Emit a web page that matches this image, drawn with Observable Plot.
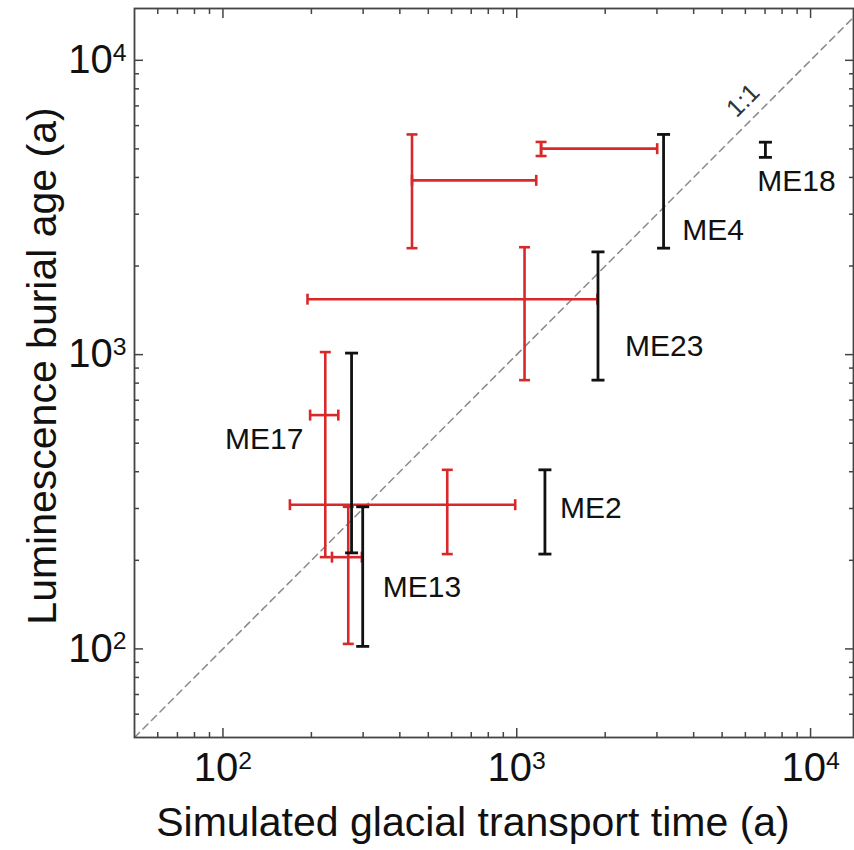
<!DOCTYPE html>
<html>
<head>
<meta charset="utf-8">
<script src="https://cdn.jsdelivr.net/npm/d3@7"></script>
<script src="https://cdn.jsdelivr.net/npm/@observablehq/plot@0.6"></script>
<style>
  html, body { margin: 0; padding: 0; background: #fff; }
  #chart svg { display: block; }
</style>
</head>
<body>
<div id="chart"></div>
<script>
// ---- data ----
const samples   = ["ME4", "ME18", "ME23", "ME17", "ME2", "ME13"];
// red: simulated transport time (x, with range) and luminescence age (y, with range)
const redX      = [440, 1210, 1063, 223, 580, 267];
const redXLo    = [440, 1210, 194, 198, 169, 235];
const redXHi    = [1165, 3006, 1881, 247, 988, 297];
const redY      = [3910, 5010, 1543, 623, 309, 205];
const redYLo    = [2300, 4730, 819, 205, 210, 104];
const redYHi    = [5600, 5280, 2317, 1020, 406, 304];
// black: luminescence age ranges
const blackX    = [3160, 7020, 1890, 274, 1247, 299];
const blackYLo  = [2300, 4680, 819, 212, 210, 102];
const blackYHi  = [5600, 5270, 2234, 1012, 406, 304];
// sample label anchor points (data units)
const labelX    = [3655, 6583, 2337, 188, 1404, 350];
const labelY    = [2648, 3882, 1069, 516, 301, 162];
const labelSide = ["start", "start", "start", "end", "start", "start"];
// axes
const majorTicks = [100, 1000, 10000];
const minorTicks = [60, 70, 80, 90, 200, 300, 400, 500, 600, 700, 800, 900,
                    2000, 3000, 4000, 5000, 6000, 7000, 8000, 9000];
const oneToOne = [50, 15000];
const oneToOneLabel = [{x: 5900, y: 7300, text: "1:1"}];
const xTitle = "Simulated glacial transport time (a)";
const yTitle = "Luminescence burial age (a)";

const rows = samples.map((s, i) => ({
  name: s, rx: redX[i], rxlo: redXLo[i], rxhi: redXHi[i],
  ry: redY[i], rylo: redYLo[i], ryhi: redYHi[i],
  bx: blackX[i], bylo: blackYLo[i], byhi: blackYHi[i],
  lx: labelX[i], ly: labelY[i], side: labelSide[i]
}));

// custom cap symbols
const hcap = {draw(ctx, size) { const r = Math.sqrt(size / Math.PI); ctx.moveTo(-r, 0); ctx.lineTo(r, 0); }};
const vcap = {draw(ctx, size) { const r = Math.sqrt(size / Math.PI); ctx.moveTo(0, -r); ctx.lineTo(0, r); }};

const RED = "#d8282a";
const BLK = "#111111";
const AX = "#444444";

const chart = Plot.plot({
  width: 854,
  height: 850,
  marginTop: 8,
  marginBottom: 113,
  marginLeft: 134,
  marginRight: 1,
  x: {type: "log", domain: [50, 14000]},
  y: {type: "log", domain: [50, 15000]},
  style: {fontFamily: "'Liberation Sans', Arial, Helvetica, sans-serif", background: "#fff", color: "#111"},
  marks: [
    // 1:1 line
    Plot.line(oneToOne, {x: d => d, y: d => d, stroke: "#8a8a8a", strokeWidth: 1.5, strokeDasharray: "7,5", clip: true}),
    Plot.text(oneToOneLabel, {x: "x", y: "y", text: "text", rotate: -45, fontSize: 25, fill: "#333"}),

    // red: vertical bars
    Plot.ruleX(rows, {x: "rx", y1: "rylo", y2: "ryhi", stroke: RED, strokeWidth: 2.6}),
    Plot.dot(rows, {x: "rx", y: "rylo", symbol: hcap, r: 5.5, stroke: RED, strokeWidth: 2.6, fill: "none"}),
    Plot.dot(rows, {x: "rx", y: "ryhi", symbol: hcap, r: 5.5, stroke: RED, strokeWidth: 2.6, fill: "none"}),
    // red: horizontal bars
    Plot.ruleY(rows, {y: "ry", x1: "rxlo", x2: "rxhi", stroke: RED, strokeWidth: 2.6}),
    Plot.dot(rows, {x: "rxlo", y: "ry", symbol: vcap, r: 5.5, stroke: RED, strokeWidth: 2.6, fill: "none"}),
    Plot.dot(rows, {x: "rxhi", y: "ry", symbol: vcap, r: 5.5, stroke: RED, strokeWidth: 2.6, fill: "none"}),

    // black bars
    Plot.ruleX(rows, {x: "bx", y1: "bylo", y2: "byhi", stroke: BLK, strokeWidth: 2.8}),
    Plot.dot(rows, {x: "bx", y: "bylo", symbol: hcap, r: 6.5, stroke: BLK, strokeWidth: 2.8, fill: "none"}),
    Plot.dot(rows, {x: "bx", y: "byhi", symbol: hcap, r: 6.5, stroke: BLK, strokeWidth: 2.8, fill: "none"}),

    // sample labels
    Plot.text(rows.filter(d => d.side === "start"), {x: "lx", y: "ly", text: "name", textAnchor: "start", fontSize: 30, fill: "#111"}),
    Plot.text(rows.filter(d => d.side === "end"), {x: "lx", y: "ly", text: "name", textAnchor: "end", fontSize: 30, fill: "#111"}),

    // frame
    Plot.frame({stroke: AX, strokeWidth: 1.8}),

    // inward ticks
    Plot.axisX(majorTicks, {anchor: "bottom", tickSize: -9, tickFormat: () => "", stroke: AX, strokeWidth: 1.5}),
    Plot.axisX(minorTicks, {anchor: "bottom", tickSize: -5, tickFormat: () => "", stroke: AX, strokeWidth: 1.5}),
    Plot.axisX(majorTicks, {anchor: "top", tickSize: -9, tickFormat: () => "", stroke: AX, strokeWidth: 1.5}),
    Plot.axisX(minorTicks, {anchor: "top", tickSize: -5, tickFormat: () => "", stroke: AX, strokeWidth: 1.5}),
    Plot.axisY(majorTicks, {anchor: "left", tickSize: -9, tickFormat: () => "", stroke: AX, strokeWidth: 1.5}),
    Plot.axisY(minorTicks, {anchor: "left", tickSize: -5, tickFormat: () => "", stroke: AX, strokeWidth: 1.5}),
    Plot.axisY(majorTicks, {anchor: "right", tickSize: -9, tickFormat: () => "", stroke: AX, strokeWidth: 1.5}),
    Plot.axisY(minorTicks, {anchor: "right", tickSize: -5, tickFormat: () => "", stroke: AX, strokeWidth: 1.5}),

    // tick labels
    Plot.axisX(majorTicks, {anchor: "bottom", tickSize: 0, tickPadding: 15, fontSize: 40, fill: "#111",
      tickFormat: d => "10^" + Math.round(Math.log10(d))}),
    Plot.axisY(majorTicks, {anchor: "left", tickSize: 0, tickPadding: 8, fontSize: 40, fill: "#111",
      tickFormat: d => "10^" + Math.round(Math.log10(d))}),

    // axis titles
    Plot.text([xTitle], {text: d => d, frameAnchor: "bottom", textAnchor: "middle", lineAnchor: "bottom", dy: 98, dx: -21, fontSize: 41, fill: "#111"}),
    Plot.text([yTitle], {text: d => d, frameAnchor: "left", textAnchor: "middle", lineAnchor: "bottom", rotate: -90, dx: -79, dy: -7, fontSize: 41, fill: "#111"})
  ]
});

// render exponents as superscripts
d3.select(chart).selectAll("text").each(function () {
  const m = this.textContent.match(/^10\^(\d+)$/);
  if (!m) return;
  const t = d3.select(this);
  t.text(null);
  t.append("tspan").text("10");
  t.append("tspan").attr("dy", "-0.5em").attr("font-size", "0.62em").text(m[1]);
});

document.getElementById("chart").appendChild(chart);
</script>
</body>
</html>
